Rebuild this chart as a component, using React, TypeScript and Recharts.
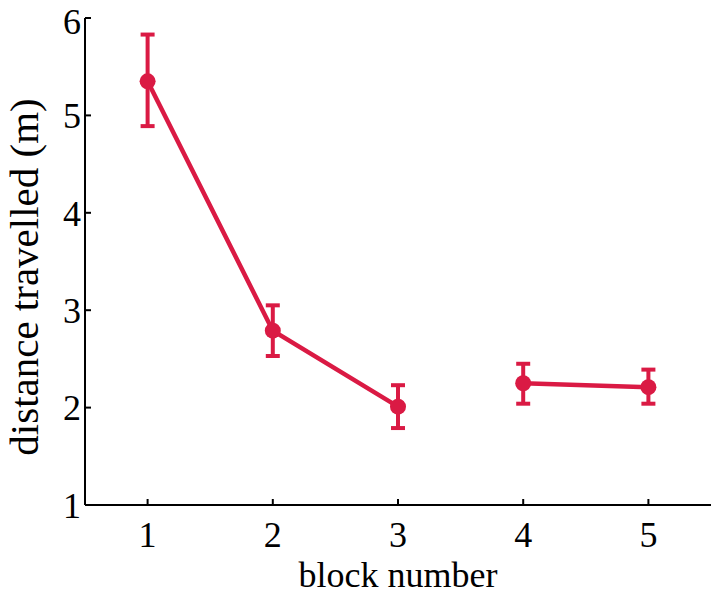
import React from 'react';
import { LineChart, Line, XAxis, YAxis, ErrorBar } from 'recharts';

const blocks = [1, 2, 3, 4, 5];
const distance = [5.35, 2.79, 2.01, 2.25, 2.21];
const errLow = [0.46, 0.26, 0.22, 0.21, 0.17];
const errHigh = [0.48, 0.26, 0.22, 0.2, 0.18];
const segments = [[0, 1, 2], [3, 4]];
const yTicks = [1, 2, 3, 4, 5, 6];

const COLOR = '#DA1A44';
const FONT = '"Liberation Serif", "Times New Roman", serif';

const rows = blocks.map((b, i) => ({
  block: b,
  value: distance[i],
  err: [errLow[i], errHigh[i]],
}));

const YLabel = () => (
  <text
    x={38}
    y={277}
    transform="rotate(-90, 38, 277)"
    textAnchor="middle"
    fill="#000"
    fontFamily={FONT}
    fontSize={41}
  >
    distance travelled (m)
  </text>
);

export default function App() {
  return (
    <div style={{ position: 'absolute', left: 0, top: 0 }}>
      <LineChart width={713} height={594} margin={{ top: 18, right: 2, left: 0, bottom: 0 }}>
        <XAxis
          type="number"
          dataKey="block"
          domain={[0.5, 5.5]}
          ticks={blocks}
          allowDuplicatedCategory={false}
          height={89}
          tickSize={-6}
          tickMargin={22}
          axisLine={{ stroke: '#000', strokeWidth: 2 }}
          tickLine={{ stroke: '#000', strokeWidth: 2 }}
          tick={{ fill: '#000', fontFamily: FONT, fontSize: 36 }}
          label={{ value: 'block number', position: 'insideBottom', offset: 7, fill: '#000', fontFamily: FONT, fontSize: 36 }}
        />
        <YAxis
          type="number"
          domain={[1, 6]}
          ticks={yTicks}
          width={85}
          tickSize={-6}
          tickMargin={10}
          axisLine={{ stroke: '#000', strokeWidth: 2 }}
          tickLine={{ stroke: '#000', strokeWidth: 2 }}
          tick={{ fill: '#000', fontFamily: FONT, fontSize: 36 }}
          label={{ content: () => <YLabel /> }}
        />
        {segments.map((idx, s) => (
          <Line
            key={s}
            data={idx.map((i) => rows[i])}
            dataKey="value"
            stroke={COLOR}
            strokeWidth={4.5}
            dot={{ r: 8, fill: COLOR, stroke: COLOR, strokeWidth: 0 }}
            isAnimationActive={false}
          >
            <ErrorBar dataKey="err" direction="y" width={7} stroke={COLOR} strokeWidth={4} />
          </Line>
        ))}
      </LineChart>
    </div>
  );
}
